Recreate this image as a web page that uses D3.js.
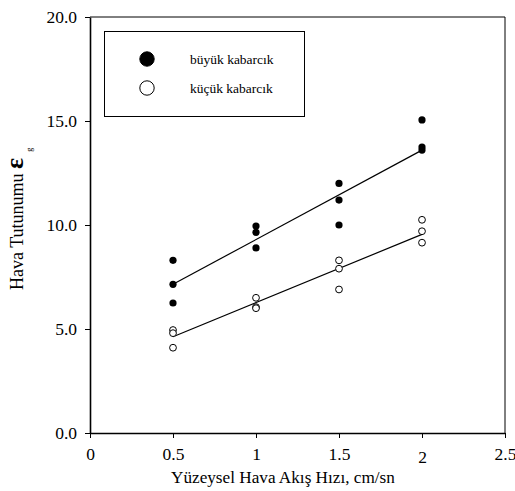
<!DOCTYPE html>
<html>
<head>
<meta charset="utf-8">
<script src="https://cdn.jsdelivr.net/npm/d3@7"></script>
<style>
  body { margin: 0; background: #fff; }
  svg { font-family: "Liberation Serif", "Times New Roman", serif; }
</style>
</head>
<body>
<div id="viz"></div>
<script>
// values
const xLevels = [0.5, 1, 1.5, 2];
const buyukValues = [
  [8.3, 7.15, 6.25],
  [9.95, 9.65, 8.9],
  [12.0, 11.2, 10.0],
  [15.05, 13.75, 13.6]
];
const kucukValues = [
  [4.95, 4.8, 4.1],
  [6.5, 6.05, 6.0],
  [8.3, 7.9, 6.9],
  [10.25, 9.7, 9.15]
];
// fitted lines (ends at x=0.5 and x=2)
const buyukFit = [7.15, 13.6];
const kucukFit = [4.63, 9.55];

const xTicks = [0, 0.5, 1, 1.5, 2, 2.5];
const xTickLabels = ["0", "0.5", "1", "1.5", "2", "2.5"];
const yTicks = [0, 5, 10, 15, 20];
const yTickLabels = ["0.0", "5.0", "10.0", "15.0", "20.0"];
const legendLabels = ["büyük kabarcık", "küçük kabarcık"];

const W = 515, H = 491;
const svg = d3.select("#viz").append("svg")
  .attr("width", W).attr("height", H);

const x = d3.scaleLinear().domain([0, 2.5]).range([90, 505]);
const y = d3.scaleLinear().domain([0, 20]).range([433, 17]);

//frame top + right
svg.append("path")
  .attr("d", `M${x(0)},${y(20)} H${x(2.5)} V${y(0)}`)
  .attr("fill", "none").attr("stroke", "#000").attr("stroke-width", 1);

//x axis
const xAxis = svg.append("g")
  .attr("transform", `translate(0,${y(0)})`)
  .call(d3.axisBottom(x).tickValues(xTicks)
    .tickFormat((d, i) => xTickLabels[i]).tickSize(5).tickPadding(10).tickSizeOuter(0));
xAxis.select(".domain").attr("stroke-width", 1.6);
xAxis.selectAll("text").attr("font-size", 17.5).attr("fill", "#000")
  .attr("font-family", "Liberation Serif")
  .attr("dy", (d) => d === 2 ? "0.85em" : "0.71em"); // the "2" sits lower in the original

//y axis
const yAxis = svg.append("g")
  .attr("transform", `translate(${x(0)},0)`)
  .call(d3.axisLeft(y).tickValues(yTicks)
    .tickFormat((d, i) => yTickLabels[i]).tickSize(5).tickPadding(8).tickSizeOuter(0));
yAxis.select(".domain").attr("stroke-width", 1.6);
yAxis.selectAll("text").attr("font-size", 17.5).attr("fill", "#000")
  .attr("font-family", "Liberation Serif");

//regression lines
const fitLine = d3.line().x(d => x(d[0])).y(d => y(d[1]));
[buyukFit, kucukFit].forEach(f => {
  svg.append("path")
    .attr("d", fitLine([[xLevels[0], f[0]], [xLevels[xLevels.length - 1], f[1]]]))
    .attr("fill", "none").attr("stroke", "#000").attr("stroke-width", 1.2);
});

//points
const flat = (vals) => vals.flatMap((col, i) => col.map(v => ({ x: xLevels[i], v })));
svg.append("g").selectAll("circle")
  .data(flat(buyukValues)).enter().append("circle")
  .attr("cx", d => x(d.x)).attr("cy", d => y(d.v)).attr("r", 3.6)
  .attr("fill", "#000");
svg.append("g").selectAll("circle")
  .data(flat(kucukValues)).enter().append("circle")
  .attr("cx", d => x(d.x)).attr("cy", d => y(d.v)).attr("r", 3.4)
  .attr("fill", "#fff").attr("stroke", "#000").attr("stroke-width", 1);

//legend
svg.append("rect")
  .attr("x", 104.5).attr("y", 31.5).attr("width", 200).attr("height", 85)
  .attr("fill", "none").attr("stroke", "#000").attr("stroke-width", 1);
legendLabels.forEach((lab, i) => {
  const cy = 59 + i * 29;
  svg.append("circle")
    .attr("cx", 147).attr("cy", cy).attr("r", 7.2)
    .attr("fill", i === 0 ? "#000" : "#fff")
    .attr("stroke", "#000").attr("stroke-width", 1);
  svg.append("text")
    .attr("x", 190).attr("y", cy + 5)
    .attr("font-size", 13.5).text(lab);
});

//axis titles
svg.append("text")
  .attr("x", 171).attr("y", 483)
  .attr("font-size", 17.2)
  .text("Yüzeysel Hava Akış Hızı, cm/sn");

const yt = svg.append("text")
  .attr("transform", "translate(23,290) rotate(-90)")
  .attr("font-size", 18);
yt.append("tspan").text("Hava Tutunumu ");
yt.append("tspan").attr("font-size", 26).attr("font-weight", "bold").text("ε");
yt.append("tspan").attr("font-size", 8).attr("dx", 6).attr("dy", 9).text("g");
</script>
</body>
</html>
